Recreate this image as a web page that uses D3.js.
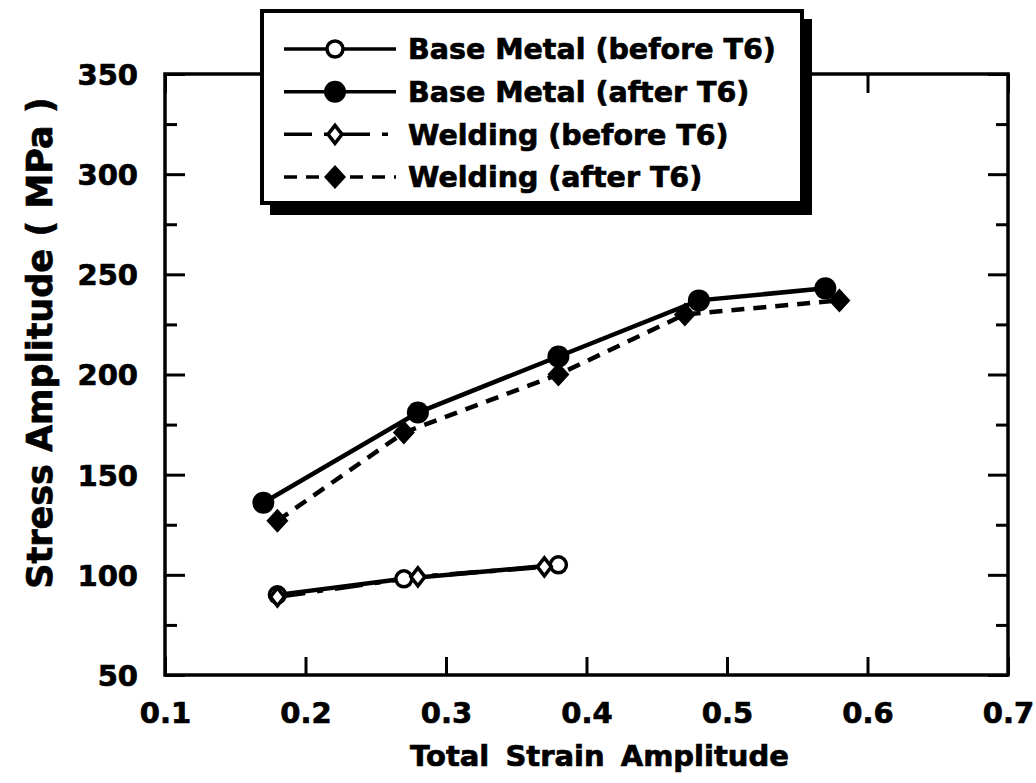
<!DOCTYPE html>
<html>
<head>
<meta charset="utf-8">
<script src="https://cdn.jsdelivr.net/npm/d3@7"></script>
<style>
  body { margin: 0; background: #fff; }
  text { font-family: "DejaVu Sans", sans-serif; font-weight: bold; fill: #000; stroke: #000; stroke-width: 0.7px; }
</style>
</head>
<body>
<div id="chart"></div>
<script>
// values
const baseBeforeX = [0.18, 0.27, 0.38];
const baseBeforeY = [90, 98, 105];
const weldBeforeX = [0.18, 0.28, 0.37];
const weldBeforeY = [89, 99, 104];
const baseAfterX = [0.17, 0.28, 0.38, 0.48, 0.57];
const baseAfterY = [136, 181, 209, 237, 243];
const weldAfterX = [0.18, 0.27, 0.38, 0.47, 0.58];
const weldAfterY = [127, 171, 200, 230, 237];

const xTicks = [0.1, 0.2, 0.3, 0.4, 0.5, 0.6, 0.7];
const yTicks = [50, 100, 150, 200, 250, 300, 350];
const yMinor = [75, 125, 175, 225, 275, 325];

const legendLabels = ["Base Metal (before T6)", "Base Metal (after T6)",
                      "Welding (before T6)", "Welding (after T6)"];

const W = 1036, H = 783;
const plotLeft = 165, plotRight = 1008, plotTop = 74, plotBottom = 675;

const svg = d3.select("#chart").append("svg")
    .attr("width", W)
    .attr("height", H);

const x = d3.scaleLinear().domain([0.1, 0.7]).range([plotLeft, plotRight]);
const y = d3.scaleLinear().domain([50, 350]).range([plotBottom, plotTop]);

const zip = (xs, ys) => xs.map((v, i) => ({ x: v, y: ys[i] }));

// series: line style + marker style
const series = [
    { name: legendLabels[0], data: zip(baseBeforeX, baseBeforeY), dash: null, marker: "openCircle" },
    { name: legendLabels[1], data: zip(baseAfterX, baseAfterY), dash: null, marker: "filledCircle" },
    { name: legendLabels[2], data: zip(weldBeforeX, weldBeforeY), dash: "28,12,6,12", marker: "openDiamond" },
    { name: legendLabels[3], data: zip(weldAfterX, weldAfterY), dash: "13,9", marker: "filledDiamond" }
];

// axes (ticks pointing inward)
function styleAxis(g) {
    g.select(".domain").remove();
    g.selectAll(".tick line").attr("stroke", "#000").attr("stroke-width", 3);
    g.selectAll(".tick text").style("font-size", "29px").attr("font-family", null);
}

svg.append("g")
    .attr("transform", `translate(${plotLeft},0)`)
    .call(d3.axisLeft(y).tickValues(yTicks).tickSize(-20).tickPadding(27).tickFormat(d3.format("d")))
    .call(styleAxis)
    .selectAll(".tick text").attr("dy", "0.36em");

svg.append("g")
    .attr("transform", `translate(${plotLeft},0)`)
    .call(d3.axisLeft(y).tickValues(yMinor).tickSize(-12).tickFormat(""))
    .call(styleAxis);

svg.append("g")
    .attr("transform", `translate(${plotRight},0)`)
    .call(d3.axisRight(y).tickValues(yTicks).tickSize(-20).tickFormat(""))
    .call(styleAxis);

svg.append("g")
    .attr("transform", `translate(${plotRight},0)`)
    .call(d3.axisRight(y).tickValues(yMinor).tickSize(-12).tickFormat(""))
    .call(styleAxis);

svg.append("g")
    .attr("transform", `translate(0,${plotBottom})`)
    .call(d3.axisBottom(x).tickValues(xTicks).tickSize(-18).tickPadding(27).tickFormat(d3.format(".1f")))
    .call(styleAxis);

svg.append("g")
    .attr("transform", `translate(0,${plotTop})`)
    .call(d3.axisTop(x).tickValues(xTicks).tickSize(-19).tickFormat(""))
    .call(styleAxis);

// frame
svg.append("rect")
    .attr("x", plotLeft).attr("y", plotTop)
    .attr("width", plotRight - plotLeft).attr("height", plotBottom - plotTop)
    .attr("fill", "none")
    .attr("stroke", "#000")
    .attr("stroke-width", 3.5);

// axis titles
svg.append("text")
    .attr("x", (plotLeft + plotRight) / 2 + 13)
    .attr("y", 766)
    .attr("text-anchor", "middle")
    .style("font-size", "29px")
    .style("word-spacing", "6px")
    .text("Total Strain Amplitude");

svg.append("text")
    .attr("transform", "translate(52,343) rotate(-90)")
    .attr("text-anchor", "middle")
    .style("font-size", "35px")
    .text("Stress Amplitude ( MPa )");

// marker drawing
function drawMarker(g, type, cx, cy) {
    if (type === "openCircle") {
        g.append("circle").attr("cx", cx).attr("cy", cy).attr("r", 8)
            .attr("fill", "#fff").attr("stroke", "#000").attr("stroke-width", 3.5);
    } else if (type === "filledCircle") {
        g.append("circle").attr("cx", cx).attr("cy", cy).attr("r", 11)
            .attr("fill", "#000");
    } else if (type === "openDiamond") {
        g.append("path")
            .attr("d", `M${cx},${cy - 9}L${cx + 7},${cy}L${cx},${cy + 9}L${cx - 7},${cy}Z`)
            .attr("fill", "#fff").attr("stroke", "#000").attr("stroke-width", 3.5);
    } else {
        g.append("path")
            .attr("d", `M${cx},${cy - 12}L${cx + 11},${cy}L${cx},${cy + 12}L${cx - 11},${cy}Z`)
            .attr("fill", "#000");
    }
}

const line = d3.line().x(d => x(d.x)).y(d => y(d.y));

const plot = svg.append("g");

series.forEach(s => {
    plot.append("path")
        .datum(s.data)
        .attr("fill", "none")
        .attr("stroke", "#000")
        .attr("stroke-width", 4.5)
        .attr("stroke-dasharray", s.dash)
        .attr("d", line);
});

// markers on top, drawn in the order that keeps overlaps like the scan
[series[1], series[3], series[0], series[2]].forEach(s => {
    s.data.forEach(d => drawMarker(plot, s.marker, x(d.x), y(d.y)));
});

// legend box with drop shadow
const lg = svg.append("g");
lg.append("rect")
    .attr("x", 270).attr("y", 19).attr("width", 542).attr("height", 196)
    .attr("fill", "#000");
lg.append("rect")
    .attr("x", 262).attr("y", 11).attr("width", 540).attr("height", 192)
    .attr("fill", "#fff").attr("stroke", "#000").attr("stroke-width", 4);

const rowY = d3.scalePoint().domain(legendLabels).range([49, 177]);

series.forEach(s => {
    const cy = rowY(s.name);
    lg.append("line")
        .attr("x1", 284).attr("x2", 396)
        .attr("y1", cy).attr("y2", cy)
        .attr("stroke", "#000")
        .attr("stroke-width", 3.5)
        .attr("stroke-dasharray", s.dash);
    drawMarker(lg, s.marker, 335, cy);
    lg.append("text")
        .attr("x", 408)
        .attr("y", cy)
        .attr("dy", "0.36em")
        .style("font-size", "28.5px")
        .text(s.name);
});
</script>
</body>
</html>
